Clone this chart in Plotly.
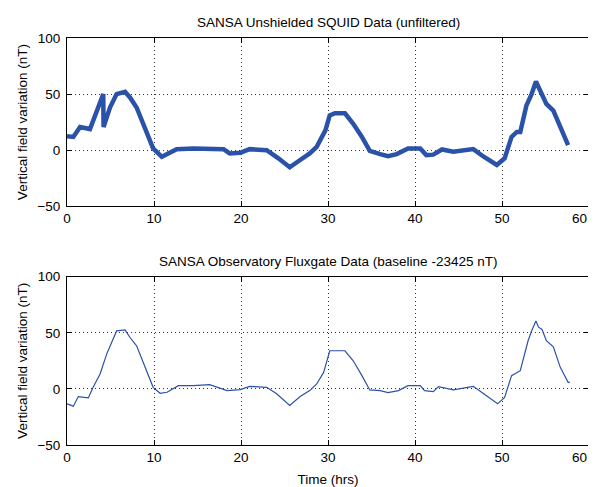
import plotly.graph_objects as go

# SQUID (top) data
squid_t = [0, 0.73, 1.5, 2.64, 4.17, 4.2, 4.94, 5.7, 6.67, 7.24, 8.0, 8.97, 9.9, 10.9, 12.6, 14.5, 18.0, 18.7,
           19.9, 21.0, 22.95, 24.3, 25.6, 26.8, 27.9, 28.7, 29.7, 30.2, 30.8, 31.95, 32.9, 33.9, 34.8, 36.0,
           36.9, 37.9, 39.2, 40.6, 41.3, 42.1, 43.1, 44.4, 46.7, 47.9, 49.4, 50.3, 51.1, 51.7, 52.1, 52.8,
           53.4, 53.9, 54.4, 55.1, 55.9, 56.7, 57.6]
squid_v = [12.4, 11.8, 20.6, 18.8, 50, 20.6, 38, 50, 52, 47, 38, 20.6, 1.5, -5.9, 0.9, 1.5, 0.9, -2.9,
           -2.4, 0.9, 0, -7.3, -15.3, -8.8, -2.9, 2.9, 17.6, 30.9, 32.9, 32.9, 23.5, 11.8, -0.6, -3.5,
           -5.3, -3.5, 1.5, 1.5, -4.4, -4.0, 0.6, -1.5, 0.9, -5.9, -13.2, -7.3, 11.8, 16.2, 16.2, 39.7,
           50, 61.2, 52.9, 41.2, 35.3, 20.6, 4.4]

# Fluxgate (bottom) data
flux_t = [0, 0.73, 1.3, 2.45, 3.0, 3.8, 4.56, 5.3, 5.7, 6.67, 7.24, 8.0, 9.16, 9.9, 10.7, 11.5, 12.8, 14.5,
          16.4, 18.4, 19.9, 21.0, 22.95, 24.1, 25.6, 26.8, 27.9, 28.7, 29.5, 30.2, 31.95, 32.9, 33.9, 34.8,
          36.0, 36.9, 38.1, 39.2, 40.6, 41.1, 42.1, 42.7, 44.4, 46.7, 47.9, 49.5, 50.3, 51.1, 52.1, 53.0,
          53.4, 53.9, 54.2, 54.6, 55.1, 55.9, 56.7, 57.6, 57.8]
flux_v = [-13.3, -15.4, -6.8, -8.0, 1.4, 13.3, 31, 44.4, 51.7, 52.6, 45.8, 38.4, 16.2, 1.4, -3.9, -3.0, 2.9, 2.9,
          3.8, -1.5, -0.6, 2.3, 1.4, -4.4, -14.8, -6.8, -1.5, 4.4, 14.7, 34, 34, 25.1, 11.8, -0.9,
          -1.5, -3.3, -1.5, 2.9, 2.9, -1.5, -2.4, 2.0, -0.9, 2.3, -4.4, -13.3, -7.5, 11.8, 16.2, 42.9,
          51.6, 60.6, 55, 53, 42.9, 37.5, 19.2, 5.9, 5.9]

x_ticks = [0, 10, 20, 30, 40, 50, 60]
x_ticktext = ["0", "10", "20", "30", "40", "50", ""]   # last label drawn as annotation to keep it on-page
x_last_label = "60"
y_ticks = [-50, 0, 50, 100]

titles = ["SANSA Unshielded SQUID Data (unfiltered)",
          "SANSA Observatory Fluxgate Data (baseline -23425 nT)"]
y_label = "Vertical field variation (nT)"
x_label = "Time (hrs)"

color = "#2a52a8"
font = dict(family="Liberation Sans, Arial", size=13.5, color="#000")

fig = go.Figure()
fig.add_trace(go.Scatter(x=squid_t, y=squid_v, mode="lines", line=dict(color=color, width=4.5),
                         xaxis="x", yaxis="y", showlegend=False))
fig.add_trace(go.Scatter(x=flux_t, y=flux_v, mode="lines", line=dict(color=color, width=1.2),
                         xaxis="x2", yaxis="y2", showlegend=False))

axis_common = dict(showline=True, linecolor="#000", linewidth=1, mirror="allticks", ticks="inside",
                   ticklen=5, tickcolor="#000", showgrid=True, gridcolor="#333", griddash="1px,3px",
                   gridwidth=1, zeroline=False, tickfont=font, automargin=False,
                   ticklabeloverflow="allow")

top_dom = [0.5867, 1]
bot_dom = [0, 0.4135]

# The page body adds an 8px offset; the figure is sized to fill the rest of the window.
fig.update_layout(
    width=588, height=479,
    margin=dict(l=59, r=7, t=30, b=42),
    paper_bgcolor="white", plot_bgcolor="white",
    font=font,
    xaxis=dict(domain=[0, 1], range=[0, 60], tickvals=x_ticks, ticktext=x_ticktext, anchor="y",
               **axis_common),
    yaxis=dict(domain=top_dom, range=[-50, 100], tickvals=y_ticks, anchor="x", ticklabelstandoff=3,
               title=dict(text=y_label, font=font, standoff=6), **axis_common),
    xaxis2=dict(domain=[0, 1], range=[0, 60], tickvals=x_ticks, ticktext=x_ticktext, anchor="y2",
                title=dict(text=x_label, font=font, standoff=10), **axis_common),
    yaxis2=dict(domain=bot_dom, range=[-50, 100], tickvals=y_ticks, anchor="x2", ticklabelstandoff=3,
                title=dict(text=y_label, font=font, standoff=6), **axis_common),
    annotations=[
        dict(text=titles[0], x=0.5, y=top_dom[1], xref="paper", yref="paper", xanchor="center",
             yanchor="bottom", yshift=6, showarrow=False, font=font),
        dict(text=titles[1], x=0.5, y=bot_dom[1], xref="paper", yref="paper", xanchor="center",
             yanchor="bottom", yshift=6, showarrow=False, font=font),
        dict(text=x_last_label, x=1, y=top_dom[0], xref="paper", yref="paper", xanchor="right",
             yanchor="top", xshift=0, yshift=-3, showarrow=False, font=font),
        dict(text=x_last_label, x=1, y=bot_dom[0], xref="paper", yref="paper", xanchor="right",
             yanchor="top", xshift=0, yshift=-3, showarrow=False, font=font),
    ],
)

fig.write_html("out.html")
